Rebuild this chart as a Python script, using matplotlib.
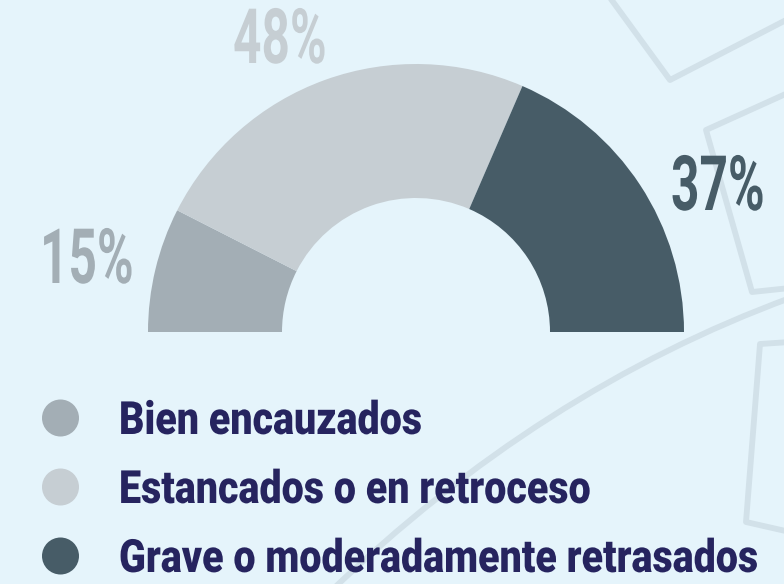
import matplotlib
matplotlib.use("Agg")
import matplotlib.pyplot as plt
from matplotlib.patheffects import AbstractPathEffect
from matplotlib.transforms import Affine2D
from matplotlib.path import Path
from matplotlib.patches import PathPatch

# data
categories = ["Bien encauzados", "Estancados o en retroceso", "Grave o moderadamente retrasados"]
shares = [15, 48, 37]
colors = ["#A3AEB5", "#C6CED3", "#475C67"]

BG = "#E5F4FB"
NAVY = "#26245F"
DECO = "#D2E1E9"
W, H = 784, 584


class Squeeze(AbstractPathEffect):
    """draw text narrower (condensed look) by scaling the glyph paths in x"""
    def __init__(self, sx):
        super().__init__()
        self.sx = sx

    def draw_path(self, renderer, gc, tpath, affine, rgbFace=None):
        renderer.draw_path(gc, tpath, Affine2D().scale(self.sx, 1) + affine, rgbFace)


fig = plt.figure(figsize=(W / 100, H / 100), dpi=100, facecolor=BG)
ax = fig.add_axes([0, 0, 1, 1])
ax.set_facecolor(BG)

# background decoration (faint outlines)
deco_lines = [
    [(608, -5), (670, 80), (790, 18)],
    [(790, 92), (706, 130), (752, 292), (790, 288)],
    [(790, 342), (760, 344), (746, 522), (790, 532)],
]
for pts in deco_lines:
    xs, ys = zip(*pts)
    ax.plot(xs, ys, color=DECO, lw=4.2, solid_joinstyle="round", solid_capstyle="round", zorder=0)
curve = Path([(790, 298), (540, 390), (330, 592)], [Path.MOVETO, Path.CURVE3, Path.CURVE3])
ax.add_patch(PathPatch(curve, fc="none", ec=DECO, lw=4.2, zorder=0))

# half donut: hidden wedge fills the lower half
cx, cy, r = 416, 332, 268
wedges, _ = ax.pie(shares + [sum(shares)], colors=colors + ["none"], startangle=180,
                   counterclock=True, center=(cx, cy), radius=r,
                   wedgeprops=dict(width=r / 2, linewidth=0))
ax.set_xlim(0, W)
ax.set_ylim(H, 0)
ax.set_aspect("equal")
ax.axis("off")

# percentage labels
label_pos = [(40, 283), (233, 63), (671, 210)]
for v, c, (x, y) in zip(shares, colors, label_pos):
    ax.text(x, y, f"{v}%", color=c, fontsize=55, family="Roboto", fontweight="bold",
            ha="left", va="baseline", path_effects=[Squeeze(0.65)])

# legend
for i, (cat, c) in enumerate(zip(categories, colors)):
    yc = 418 + 69 * i
    ax.add_patch(plt.Circle((60.5, yc), 18.5, color=c, lw=0))
    ax.text(119, yc + 16, cat, color=NAVY, fontsize=33, family="Roboto", fontweight="black",
            ha="left", va="baseline", path_effects=[Squeeze(0.86)])

fig.savefig("out.png", dpi=100, facecolor=BG)
